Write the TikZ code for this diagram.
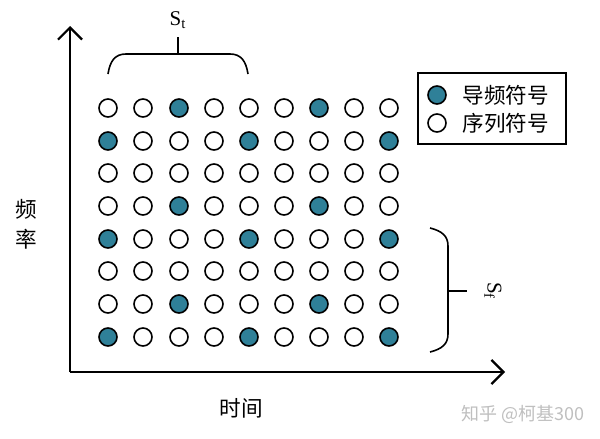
\documentclass[tikz,border=0pt]{standalone}
\usepackage{fontspec}
\setmainfont{Liberation Serif}
\newfontfamily\cjk{Noto Sans CJK SC}
\usetikzlibrary{arrows.meta}
\definecolor{pilot}{RGB}{47,128,152}
\tikzset{
  sym/.style={circle,draw=black,line width=0.8pt,minimum size=9pt,inner sep=0pt},
  pilotsym/.style={sym,fill=pilot},
  datasym/.style={sym,fill=white},
  axis/.style={line width=1.1pt,-{Straight Barb[length=6pt,width=12pt,line width=1.1pt]}},
  bracel/.style={line width=0.8pt},
  lbl/.style={font=\cjk\fontsize{10.8pt}{12pt}\selectfont,inner sep=0pt},
}
\begin{document}
\begin{tikzpicture}[x=0.5pt,y=-0.5pt]
\useasboundingbox (0,0) rectangle (600,439);
% axes
\coordinate (o) at (70,372);
\coordinate (ytop) at (70,26);
\coordinate (xend) at (505,372);
\draw[axis] (o) -- (ytop);
\draw[axis] (o) -- (xend);
% grid of symbols
\foreach \r/\y in {0/108,1/141,2/173,3/206,4/239,5/271,6/304,7/337}{
  \foreach \c/\x in {0/108,1/143,2/179,3/214,4/249,5/284,6/319,7/354,8/389}{
    \pgfmathtruncatemacro{\rm}{mod(\r,3)}
    \pgfmathtruncatemacro{\cm}{mod(\c,4)}
    \pgfmathtruncatemacro{\isp}{(\rm==0 && \cm==2) || (\rm==1 && \cm==0) ? 1 : 0}
    \ifnum\isp=1
      \node[pilotsym] (c-\r-\c) at (\x,\y) {};
    \else
      \node[datasym] (c-\r-\c) at (\x,\y) {};
    \fi
  }
}
% top brace S_t
\draw[bracel] (108,74) .. controls (110,61) and (115,54) .. (126,54) -- (230,54) .. controls (241,54) and (246,61) .. (248,74);
\draw[bracel] (178,54) -- (178,37);
\node[inner sep=0pt,font=\fontsize{10.5pt}{12pt}\selectfont] (st) at (178,20) {S\textsubscript{t}};
% right brace S_f
\draw[bracel] (430,228) .. controls (442,231) and (448,236) .. (448,246) -- (448,334) .. controls (448,344) and (442,349) .. (430,352);
\draw[bracel] (448,291) -- (467,291);
\node[inner sep=0pt,rotate=-90,font=\fontsize{10.5pt}{12pt}\selectfont] (sf) at (493,291) {S\textsubscript{f}};
% legend
\node[draw=black,line width=0.8pt,minimum width=74pt,minimum height=35.5pt,inner sep=0pt] (legend) at (492,108.5) {};
\node[pilotsym] (lp) at (437,95) {};
\node[datasym] (ld) at (437,123) {};
\node[lbl,anchor=west] (lpt) at (462,95) {导频符号};
\node[lbl,anchor=west] (ldt) at (462,123) {序列符号};
% axis labels
\node[lbl,align=center] (ylab) at (26,224) {频\\[3pt]率};
\node[lbl] (xlab) at (241,408) {时间};
% watermark
\node[font=\cjk\fontsize{9pt}{10pt}\selectfont,text=black!25,inner sep=0pt] (wm) at (523,414) {知乎 @柯基300};
\end{tikzpicture}
\end{document}
